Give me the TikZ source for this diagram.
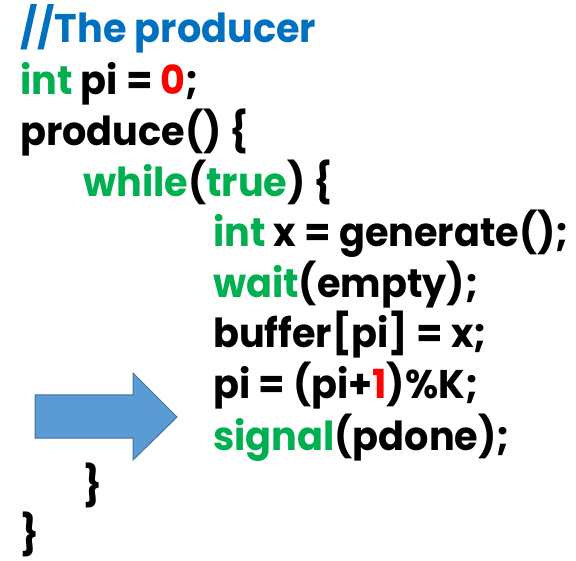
\documentclass[tikz,border=0pt]{standalone}
\usepackage{fontspec}
\setmainfont{Poppins}[FakeStretch=0.955]
\definecolor{cblue}{HTML}{0070C0}
\definecolor{cgreen}{HTML}{00B050}
\definecolor{cred}{HTML}{FF0000}
\definecolor{arrowfill}{HTML}{5B9BD5}
\definecolor{arrowedge}{HTML}{41719C}
\newcommand{\kw}[1]{\textcolor{cgreen}{#1}}
\newcommand{\num}[1]{\textcolor{cred}{#1}}
\begin{document}
\begin{tikzpicture}[x=1pt,y=-1pt,
  code/.style={anchor=base west, inner sep=0pt, font=\fontsize{40}{48}\selectfont\bfseries}]
\useasboundingbox (0,0) rectangle (576,561);
% code lines, one node per line
\node[code, text=cblue] (l1) at (20,43) {//The producer};
\node[code] (l2) at (20,95) {\kw{int} pi = \num{0};};
\node[code] (l3) at (20,146) {produce() \{};
\node[code] (l4) at (83,197) {\kw{while}(\kw{true}) \{};
\node[code] (l5) at (213,247) {\kw{int} x = generate();};
\node[code] (l6) at (213,298) {\kw{wait}(empty);};
\node[code] (l7) at (213,348) {buffer[pi] = x;};
\node[code] (l8) at (213,399) {pi = (pi+\num{1})\%K;};
\node[code] (l9) at (213,450) {\kw{signal}(pdone);};
\node[code] (l10) at (83,499) {\}};
\node[code] (l11) at (20,548) {\}};
% block arrow pointing at the current line
\draw[fill=arrowfill, draw=arrowedge, line width=1pt, line join=miter]
  (35,395) -- (133,395) -- (133,373) -- (177,417) -- (133,460) -- (133,438) -- (35,438) -- cycle;
\end{tikzpicture}
\end{document}
